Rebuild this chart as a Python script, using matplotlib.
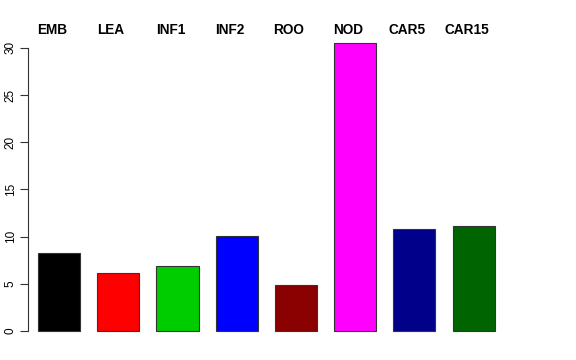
import numpy as np
import matplotlib.pyplot as plt

plt.rcParams['font.family'] = ['Liberation Sans', 'DejaVu Sans']

# tissue labels and bar heights
tissues = ['EMB', 'LEA', 'INF1', 'INF2', 'ROO', 'NOD', 'CAR5', 'CAR15']
values = [8.25, 6.15, 6.9, 10.1, 4.9, 30.5, 10.85, 11.1]
colors = ['#000000', '#FF0000', '#00CD00', '#0000FF', '#8B0000', '#FF00FF', '#00008B', '#006400']
yticks = [0, 5, 10, 15, 20, 25, 30]

fig = plt.figure(figsize=(5.76, 3.6), dpi=100)
# plot region in pixels: x 28..521, y 31.5..342.5
ax = fig.add_axes([28 / 576, (360 - 342.5) / 360, 493 / 576, 311 / 360])

x = np.arange(len(tissues))
ax.bar(x, values, width=0.71, color=colors, edgecolor='#333333', linewidth=0.8)

ax.set_xlim(-0.524, 7.80)
ax.set_ylim(-1.22, 31.72)

for s in ['top', 'right', 'bottom']:
    ax.spines[s].set_visible(False)
ax.spines['left'].set_bounds(0, 30)
ax.spines['left'].set_linewidth(0.8)
ax.spines['left'].set_color('#333333')
ax.set_xticks([])
ax.set_yticks(yticks)
ax.set_yticklabels([str(t) for t in yticks], rotation=90, va='center', fontsize=8.5)
ax.tick_params(axis='y', length=6, width=0.8, color='#333333', pad=2)

# bold labels along the top, slightly left of each bar centre
label_y = 1.0 + (31.5 - 30) / 311
for lx, name in zip(x - 0.12, tissues):
    ax.text(lx, label_y, name, transform=ax.get_xaxis_transform(),
            ha='center', va='center', fontsize=9.8, fontweight='bold',
            clip_on=False)

fig.savefig('out.png', dpi=100)
